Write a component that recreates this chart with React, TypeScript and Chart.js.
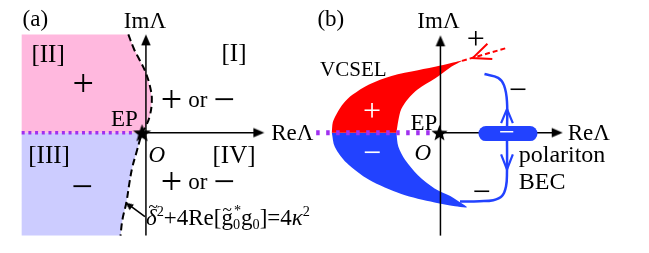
import React, { useEffect, useRef } from "react";
import { Chart, registerables } from "chart.js";

Chart.register(...registerables);

type Pair = [number, number];
type Pt = { x: number; y: number };
const pts = (a: Pair[]): Pt[] => a.map(([x, y]) => ({ x, y }));

const SERIF = '"Liberation Serif", "Times New Roman", serif';
const PINK = "#FFB8DE";
const LAVENDER = "#CCCCFF";
const PURPLE = "#A030F0";
const RED = "#FF0000";
const BLUE = "#2242FF";
const INK = "#000000";

// ---------- panel (a) : sign of the gain in the complex Λ plane ----------
const regionLeft = -12.7;
const regionTop = 10.4;
const regionBottom = -10.9;
const epBoundaryUpper: Pair[] = [
  [-1.8, 10.4], [-1.2, 8.8], [-0.7, 7.8], [0, 6.3], [0.5, 4.5],
  [0.6, 3.3], [0.4, 1.8], [0, 0.7], [-0.4, 0],
];
const epBoundaryLower: Pair[] = [
  [-0.4, 0], [-0.6, -0.7], [-1.0, -2.2], [-1.4, -3.7], [-1.7, -5.4],
  [-2.0, -7.4], [-2.4, -9.2], [-2.6, -10.9],
];
const regionII: Pair[] = [[regionLeft, 0], [regionLeft, regionTop], ...epBoundaryUpper];
const regionIII: Pair[] = [...epBoundaryLower, [regionLeft, regionBottom], [regionLeft, 0]];
const exceptionalLineA: Pair[] = [[-12.7, 0], [-1.2, 0]];
const imAxisA: Pair[] = [[0, -10.9], [0, 10.0]];
const reAxisA: Pair[] = [[0, 0], [11.8, 0]];
const imTipA: Pair = [0, 10.4];
const reTipA: Pair = [12.1, 0];
const formulaArrow: Pair[] = [[-0.1, -8.9], [-1.8, -7.6]];
const formulaTip: Pair = [-2.1, -7.4];
const epA: Pair = [-0.4, 0];

// ---------- panel (b) : VCSEL vs polariton BEC ----------
const vcselOuter: Pair[] = [
  [-11.1, 0], [-11.0, 1.1], [-10.6, 2.0], [-9.9, 3.1], [-9.0, 4.0], [-7.3, 5.1],
  [-5.0, 6.0], [-2.3, 6.6], [0, 7.1], [1.2, 7.4], [2.2, 7.6],
];
const vcselInner: Pair[] = [
  [1.0, 6.9], [-0.6, 5.7], [-2.3, 4.6], [-3.3, 3.6], [-4.0, 2.5], [-4.3, 1.3], [-4.5, 0],
];
const becOuter: Pair[] = [
  [-11.1, 0], [-10.8, -1.5], [-9.6, -3.2], [-7.3, -5.0], [-4.0, -6.5],
  [-0.6, -7.4], [1.5, -7.8], [2.7, -7.9],
];
const becInner: Pair[] = [
  [2.2, -7.5], [1.0, -6.7], [-0.6, -5.9], [-2.3, -4.5], [-3.6, -2.9], [-4.3, -1.5], [-4.5, 0],
];
const becFlow: Pair[] = [
  [2.0, -7.3], [4.0, -7.25], [5.4, -7.15], [6.3, -6.7], [6.7, -5.7], [6.8, -4.2],
  [6.8, 0], [6.8, 3.3], [6.5, 5.0], [5.9, 5.8], [4.5, 6.2],
];
const flowUpHead: Pair[] = [[6.2, 1.0], [6.8, 2.5], [7.4, 1.0]];
const flowDownHead: Pair[] = [[6.2, -2.3], [6.8, -3.9], [7.4, -2.3]];
const becPill: Pair[] = [[4.65, -0.1], [9.15, -0.1]];
const vcselEscape: Pair[] = [[2.2, 7.6], [6.9, 9.0]];
const vcselEscapeHead: Pair[] = [[4.8, 9.4], [3.3, 7.9], [5.3, 7.8]];
const exceptionalLineB: Pair[] = [[-12.7, 0], [-0.9, 0]];
const imAxisB: Pair[] = [[0, -10.9], [0, 9.9]];
const reAxisB: Pair[] = [[0, 0], [12.2, 0]];
const imTipB: Pair = [0, 10.3];
const reTipB: Pair = [12.5, 0];
const epB: Pair = [-0.1, 0];

// ---------- labels ----------
type Label = {
  text: string; axis: "xa" | "xb"; x: number; y: number; size: number;
  color?: string; italic?: boolean; align?: CanvasTextAlign; k?: number;
};
const SIGN_A = 38;
const SIGN_B = 32;
const labels: Label[] = [
  { text: "(a)", axis: "xa", x: -11.3, y: 11.9, size: 23, k: 0.26 },
  { text: "Im\u039B", axis: "xa", x: -0.1, y: 11.9, size: 23 },
  { text: "[II]", axis: "xa", x: -10.0, y: 8.2, size: 25, k: 0.26 },
  { text: "+", axis: "xa", x: -6.4, y: 4.9, size: SIGN_A, k: 0.25 },
  { text: "[I]", axis: "xa", x: 9.0, y: 8.3, size: 25, k: 0.26 },
  { text: "+", axis: "xa", x: 2.6, y: 3.2, size: SIGN_A, k: 0.25 },
  { text: "or", axis: "xa", x: 5.3, y: 3.3, size: 23, k: 0.23 },
  { text: "\u2212", axis: "xa", x: 8.0, y: 3.2, size: SIGN_A, k: 0.25 },
  { text: "EP", axis: "xa", x: -2.2, y: 1.5, size: 23 },
  { text: "O", axis: "xa", x: 1.1, y: -2.3, size: 23, italic: true },
  { text: "[III]", axis: "xa", x: -9.9, y: -2.5, size: 25, k: 0.26 },
  { text: "[IV]", axis: "xa", x: 9.0, y: -2.5, size: 25, k: 0.26 },
  { text: "\u2212", axis: "xa", x: -6.5, y: -6.0, size: SIGN_A, k: 0.25 },
  { text: "+", axis: "xa", x: 2.6, y: -5.5, size: SIGN_A, k: 0.25 },
  { text: "or", axis: "xa", x: 5.3, y: -5.4, size: 23, k: 0.23 },
  { text: "\u2212", axis: "xa", x: 8.0, y: -5.5, size: SIGN_A, k: 0.25 },
  { text: "Re\u039B", axis: "xa", x: 12.8, y: 0, size: 23, align: "left" },
  { text: "(b)", axis: "xb", x: -11.2, y: 11.9, size: 23, k: 0.26 },
  { text: "Im\u039B", axis: "xb", x: -0.2, y: 11.9, size: 23 },
  { text: "VCSEL", axis: "xb", x: -8.9, y: 6.7, size: 21 },
  { text: "+", axis: "xb", x: 3.6, y: 9.7, size: SIGN_B, k: 0.25 },
  { text: "\u2212", axis: "xb", x: 7.9, y: 4.3, size: SIGN_B, k: 0.25 },
  { text: "+", axis: "xb", x: -7.0, y: 2.1, size: SIGN_B, color: "#FFFFFF", k: 0.25 },
  { text: "EP", axis: "xb", x: -1.7, y: 1.1, size: 23 },
  { text: "\u2212", axis: "xb", x: 6.8, y: -0.1, size: 28, color: "#FFFFFF", k: 0.25 },
  { text: "Re\u039B", axis: "xb", x: 13.0, y: 0, size: 23, align: "left" },
  { text: "O", axis: "xb", x: -1.8, y: -2.1, size: 23, italic: true },
  { text: "\u2212", axis: "xb", x: -7.0, y: -2.4, size: SIGN_B, color: "#FFFFFF", k: 0.25 },
  { text: "polariton", axis: "xb", x: 8.0, y: -2.5, size: 24, align: "left", k: 0.26 },
  { text: "BEC", axis: "xb", x: 8.0, y: -5.1, size: 24, align: "left" },
  { text: "\u2212", axis: "xb", x: 4.2, y: -6.5, size: SIGN_B, k: 0.25 },
];

// formula  δ̃² + 4Re[g̃0* g0] = 4κ²
type Part = { t: string; italic?: boolean; tilde?: number; sup?: boolean; sub?: boolean; subSup?: string };
const formulaParts: Part[] = [
  { t: "\u03B4", italic: true, tilde: 0.82 },
  { t: "2", sup: true },
  { t: "+4Re[" },
  { t: "g", tilde: 0.66 },
  { t: "0", sub: true, subSup: "*" },
  { t: "g" },
  { t: "0", sub: true },
  { t: "]=4" },
  { t: "\u03BA", italic: true },
  { t: "2", sup: true },
];
const formulaAnchor: Pair = [0.0, -9.75];
const FORMULA_SIZE = 23;

function makeStar(r: number) {
  const s = Math.ceil(r * 2 + 4);
  const c = document.createElement("canvas");
  c.width = s; c.height = s;
  const g = c.getContext("2d")!;
  g.translate(s / 2, s / 2 + r * 0.1);
  g.beginPath();
  for (let i = 0; i < 10; i++) {
    const rr = i % 2 === 0 ? r : r * 0.42;
    const a = -Math.PI / 2 + (i * Math.PI) / 5;
    g.lineTo(rr * Math.cos(a), rr * Math.sin(a));
  }
  g.closePath();
  g.fillStyle = INK;
  g.fill();
  return c;
}

function makeHead(len: number, width: number) {
  const s = Math.ceil(len * 2 + 2);
  const c = document.createElement("canvas");
  c.width = s; c.height = s;
  const g = c.getContext("2d")!;
  const m = s / 2;
  g.beginPath();
  g.moveTo(m, m);
  g.lineTo(m - len, m - width / 2);
  g.lineTo(m - len, m + width / 2);
  g.closePath();
  g.fillStyle = INK;
  g.fill();
  return c;
}

const labelPlugin = {
  id: "figureLabels",
  afterDatasetsDraw(chart: any) {
    const ctx: CanvasRenderingContext2D = chart.ctx;
    const ys = chart.scales.y;
    for (const l of labels) {
      const xs = chart.scales[l.axis];
      const px = xs.getPixelForValue(l.x);
      const py = ys.getPixelForValue(l.y);
      ctx.save();
      ctx.font = `${l.italic ? "italic " : ""}${l.size}px ${SERIF}`;
      ctx.fillStyle = l.color ?? INK;
      ctx.textAlign = l.align ?? "center";
      ctx.textBaseline = "alphabetic";
      ctx.fillText(l.text, px, py + (l.k ?? 0.33) * l.size);
      ctx.restore();
    }
    // formula
    const F = FORMULA_SIZE;
    let x = chart.scales.xa.getPixelForValue(formulaAnchor[0]);
    const base = ys.getPixelForValue(formulaAnchor[1]);
    ctx.save();
    ctx.fillStyle = INK;
    ctx.textAlign = "left";
    ctx.textBaseline = "alphabetic";
    for (const p of formulaParts) {
      if (p.sup || p.sub) {
        const fs = F * 0.62;
        ctx.font = `${fs}px ${SERIF}`;
        let w = 0;
        if (p.sub) {
          ctx.fillText(p.t, x, base + F * 0.2);
          w = ctx.measureText(p.t).width;
          if (p.subSup) {
            ctx.fillText(p.subSup, x + 1, base - F * 0.42);
            w = Math.max(w, ctx.measureText(p.subSup).width + 1);
          }
        } else {
          ctx.fillText(p.t, x, base - F * 0.4);
          w = ctx.measureText(p.t).width;
        }
        x += w;
      } else {
        ctx.font = `${p.italic ? "italic " : ""}${F}px ${SERIF}`;
        ctx.fillText(p.t, x, base);
        const w = ctx.measureText(p.t).width;
        if (p.tilde) {
          ctx.font = `${F * 0.75}px ${SERIF}`;
          ctx.textAlign = "center";
          ctx.fillText("~", x + w / 2 + (p.italic ? 2 : 0), base - F * p.tilde + F * 0.25);
          ctx.textAlign = "left";
        }
        x += w;
      }
    }
    ctx.restore();
  },
};

const whiteBg = {
  id: "whiteBg",
  beforeDraw(chart: any) {
    const c = chart.ctx;
    c.save();
    c.fillStyle = "#FFFFFF";
    c.fillRect(0, 0, chart.width, chart.height);
    c.restore();
  },
};

export default function App() {
  const ref = useRef<HTMLCanvasElement | null>(null);
  useEffect(() => {
    if (!ref.current) return;
    const star = makeStar(9.5);
    const starB = makeStar(8.5);
    const head = makeHead(11, 9.5);
    const smallHead = makeHead(8, 7);

    const area = (d: Pair[], color: string, axis: string, tension = 0) => ({
      data: pts(d), xAxisID: axis, yAxisID: "y", fill: "shape", backgroundColor: color,
      borderWidth: 0, pointRadius: 0, tension, order: 20,
    });
    const stroke = (d: Pair[], color: string, axis: string, width: number, extra: any = {}) => ({
      data: pts(d), xAxisID: axis, yAxisID: "y", fill: false, borderColor: color,
      borderWidth: width, pointRadius: 0, tension: 0, order: 10, ...extra,
    });
    const mark = (p: Pair, style: any, axis: string, rotation: number, order = 2) => ({
      data: pts([p]), xAxisID: axis, yAxisID: "y", showLine: false, pointStyle: style,
      rotation, pointRadius: 6, order,
    });

    const chart = new Chart(ref.current, {
      type: "line",
      data: {
        datasets: [
          area(regionII, PINK, "xa"),
          area(regionIII, LAVENDER, "xa"),
          area([...vcselOuter, ...vcselInner], RED, "xb", 0.3),
          area([...becOuter, ...becInner], BLUE, "xb", 0.3),
          stroke(exceptionalLineA, PURPLE, "xa", 3.5, { borderDash: [3, 3.7], order: 15 }),
          stroke(exceptionalLineB, PURPLE, "xb", 5, { borderDash: [3.5, 6.5], order: 15 }),
          stroke(imAxisA, INK, "xa", 1.5, { order: 12 }),
          stroke(reAxisA, INK, "xa", 1.5, { order: 12 }),
          stroke(imAxisB, INK, "xb", 1.5, { order: 12 }),
          stroke(reAxisB, INK, "xb", 1.5, { order: 12 }),
          stroke([...epBoundaryUpper, ...epBoundaryLower.slice(1)], INK, "xa", 2, {
            borderDash: [7, 4], tension: 0.4, order: 11,
          }),
          stroke(formulaArrow, INK, "xa", 1.6),
          stroke(vcselEscape, RED, "xb", 2, { borderDash: [5, 3] }),
          stroke(vcselEscapeHead, RED, "xb", 2),
          stroke(becFlow, BLUE, "xb", 2.5, { tension: 0.4 }),
          stroke(flowUpHead, BLUE, "xb", 2.2),
          stroke(flowDownHead, BLUE, "xb", 2.2),
          stroke(becPill, BLUE, "xb", 15, { borderCapStyle: "round", order: 9 }),
          mark(imTipA, head, "xa", -90),
          mark(reTipA, head, "xa", 0),
          mark(imTipB, head, "xb", -90),
          mark(reTipB, head, "xb", 0),
          mark(formulaTip, smallHead, "xa", -143),
          mark(epA, star, "xa", 0, 1),
          mark(epB, starB, "xb", 0, 1),
        ] as any,
      },
      options: {
        animation: false,
        responsive: false,
        devicePixelRatio: 1,
        events: [],
        layout: { padding: 0 },
        plugins: { legend: { display: false }, tooltip: { enabled: false }, title: { display: false } },
        scales: {
          xa: { type: "linear", axis: "x", min: -14.2, max: 50.7, display: false },
          xb: { type: "linear", axis: "x", min: -44.3, max: 20.6, display: false },
          y: { type: "linear", min: -12.0, max: 13.3, display: false },
        } as any,
      },
      plugins: [whiteBg, labelPlugin],
    });
    return () => chart.destroy();
  }, []);

  return (
    <div style={{ position: "fixed", left: 0, top: 0, width: 649, height: 253, background: "#fff" }}>
      <canvas ref={ref} width={649} height={253} style={{ display: "block", width: 649, height: 253 }} />
    </div>
  );
}
